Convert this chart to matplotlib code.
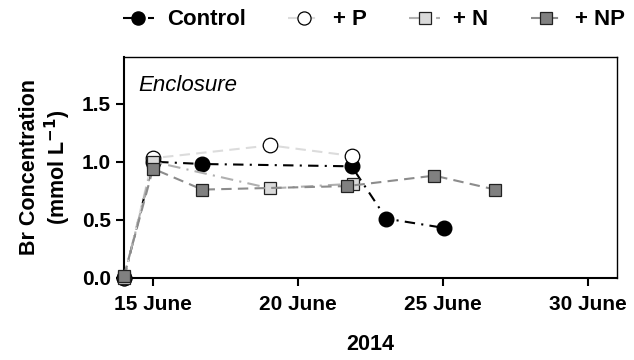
import matplotlib
matplotlib.use("Agg")
import matplotlib.pyplot as plt

plt.rcParams['font.family'] = ['Liberation Sans', 'DejaVu Sans']

# sampling days (day of June 2014) and Br concentration (mmol/L)
ctrl_days = [14, 15, 16.7, 21.85, 23.05, 25.05]
ctrl_vals = [0.0, 1.0, 0.98, 0.96, 0.51, 0.43]

p_days = [14, 15, 19.05, 21.85]
p_vals = [0.0, 1.03, 1.14, 1.05]

n_days = [14, 15, 19.05, 21.9]
n_vals = [0.0, 1.0, 0.77, 0.81]

np_days = [14, 15, 16.7, 21.7, 24.7, 26.8]
np_vals = [0.02, 0.94, 0.76, 0.79, 0.88, 0.76]

tick_days = [15, 20, 25, 30]
tick_labels = ["15 June", "20 June", "25 June", "30 June"]

fig = plt.figure(figsize=(6.34, 3.6), dpi=100)
ax = fig.add_axes([0.1956, 0.2278, 0.7775, 0.6139])

common = dict(lw=1.5, clip_on=False)
ax.plot(ctrl_days, ctrl_vals, ls=(0, (5, 3, 1, 3)), color="black",
        marker="o", ms=10.5, mfc="black", mec="black", label="Control",
        zorder=3, **common)
ax.plot(p_days, p_vals, ls=(0, (5, 3)), color="#dcdcdc",
        marker="o", ms=10.5, mfc="white", mec="black", mew=0.9, label="+ P",
        zorder=4, **common)
ax.plot(n_days, n_vals, ls=(0, (6, 3, 1, 3)), color="#b0b0b0",
        marker="s", ms=9, mfc="#dadada", mec="#222222", mew=0.9, label="+ N",
        zorder=5, **common)
ax.plot(np_days, np_vals, ls=(0, (5, 3)), color="#8c8c8c",
        marker="s", ms=9, mfc="#808080", mec="#222222", mew=0.9, label="+ NP",
        zorder=6, **common)

ax.set_xlim(14, 31)
ax.set_ylim(0, 1.9)
ax.set_xticks(tick_days)
ax.set_xticklabels(tick_labels)
ax.set_yticks([0.0, 0.5, 1.0, 1.5])
ax.set_yticklabels(["0.0", "0.5", "1.0", "1.5"])
ax.tick_params(axis="both", direction="out", length=6, width=1.5, labelsize=15)
ax.tick_params(axis="x", pad=6)
for lab in ax.get_xticklabels() + ax.get_yticklabels():
    lab.set_fontweight("bold")
for s in ax.spines.values():
    s.set_linewidth(1.5)
for s in ("top", "right"):
    ax.spines[s].set_linewidth(1.0)

ax.set_xlabel("2014", fontsize=15.5, fontweight="bold", labelpad=15)
ax.set_ylabel("Br Concentration\n(mmol L$^{\\mathbf{-1}}$)", fontsize=15.5,
              fontweight="bold", labelpad=6, linespacing=1.15)
ax.text(0.028, 0.87, "Enclosure", transform=ax.transAxes, fontsize=16,
        style="italic", va="center", ha="left")

fig.legend(loc="center", bbox_to_anchor=(0.59, 0.945), ncol=4, frameon=False,
           prop={"weight": "bold", "size": 16}, handlelength=1.4,
           columnspacing=1.9, handletextpad=0.6, markerscale=0.9)

fig.savefig("out.png", dpi=100)
